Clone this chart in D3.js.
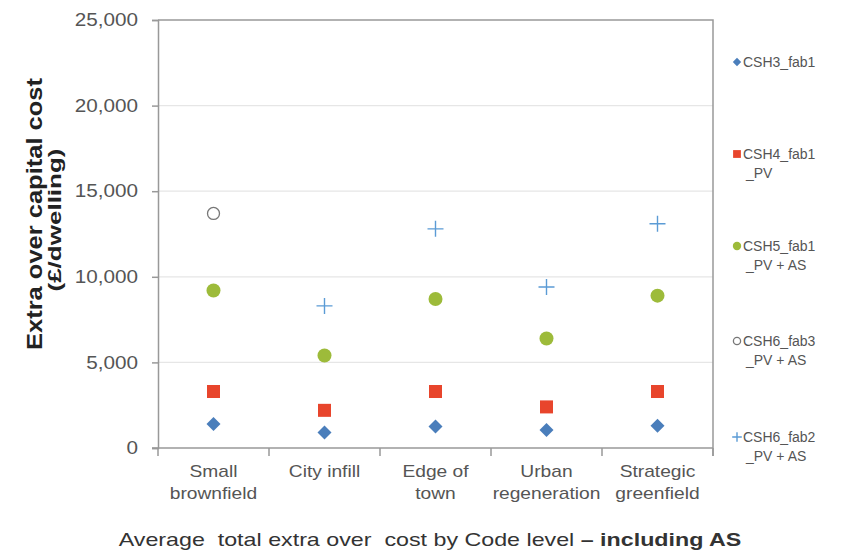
<!DOCTYPE html>
<html>
<head>
<meta charset="utf-8">
<script src="https://cdn.jsdelivr.net/npm/d3@7/dist/d3.min.js"></script>
<style>
  html, body { margin: 0; padding: 0; background: #fff; }
  svg { display: block; font-family: "Liberation Sans", Arial, sans-serif; }
</style>
</head>
<body>
<svg id="chart" width="846" height="551"></svg>
<script>
// Site types along the x axis (label lines)
const categories = ["Small brownfield", "City infill", "Edge of town", "Urban regeneration", "Strategic greenfield"];
const categoryLines = [["Small", "brownfield"], ["City infill"], ["Edge of", "town"], ["Urban", "regeneration"], ["Strategic", "greenfield"]];

// Extra over capital cost (£/dwelling) per Code level
const csh3_fab1 = [1400, 900, 1250, 1050, 1300];
const csh4_fab1_pv = [3300, 2200, 3300, 2400, 3300];
const csh5_fab1_pv_as = [9200, 5400, 8700, 6400, 8900];
const csh6_fab3_pv_as = [13700, null, null, null, null];
const csh6_fab2_pv_as = [null, 8300, 12800, 9400, 13100];

const yTicks = [0, 5000, 10000, 15000, 20000, 25000];

const seriesNames = [["CSH3_fab1"], ["CSH4_fab1", "_PV"], ["CSH5_fab1", "_PV + AS"], ["CSH6_fab3", "_PV + AS"], ["CSH6_fab2", "_PV + AS"]];

const series = [
  { values: csh3_fab1, shape: "diamond", color: "#4a7ebb" },
  { values: csh4_fab1_pv, shape: "square", color: "#e8452c" },
  { values: csh5_fab1_pv_as, shape: "circle", color: "#9dbb3a" },
  { values: csh6_fab3_pv_as, shape: "open", color: "#777" },
  { values: csh6_fab2_pv_as, shape: "plus", color: "#5b9bd5" }
];

const svg = d3.select("#chart");
const plot = { left: 158, right: 713, top: 20, bottom: 448 };

const x = d3.scaleBand().domain(categories).range([plot.left, plot.right]);
const y = d3.scaleLinear().domain([0, 25000]).range([plot.bottom, plot.top]);

// Stretch text horizontally about an anchor x
function stretch(sel, sx, ax) {
  sel.attr("transform", `translate(${ax},0) scale(${sx},1) translate(${-ax},0)`);
}

// Horizontal gridlines
svg.append("g").selectAll("line")
  .data(yTicks.filter(d => d > 0 && d < 25000))
  .join("line")
  .attr("x1", plot.left).attr("x2", plot.right)
  .attr("y1", d => y(d)).attr("y2", d => y(d))
  .attr("stroke", "#e6e6e6").attr("stroke-width", 1.2);

// Plot frame (top and right edges)
svg.append("path")
  .attr("d", `M${plot.left},${plot.top}H${plot.right}V${plot.bottom + 8}`)
  .attr("fill", "none").attr("stroke", "#999").attr("stroke-width", 1.5);

// Y axis
const yAxis = svg.append("g")
  .attr("transform", `translate(${plot.left},0)`)
  .call(d3.axisLeft(y).tickValues(yTicks).tickFormat(d3.format(",")).tickSize(6).tickPadding(14));
yAxis.select(".domain").attr("stroke", "#999").attr("stroke-width", 1.5);
yAxis.selectAll(".tick line").attr("stroke", "#999").attr("stroke-width", 1.5);
yAxis.selectAll(".tick text")
  .attr("fill", "#555").attr("font-size", "18px")
  .attr("font-family", "Liberation Sans, Arial, sans-serif")
  .each(function () { stretch(d3.select(this), 1.15, -20); });

// X axis with ticks at category boundaries
svg.append("line")
  .attr("x1", plot.left - 6).attr("x2", plot.right)
  .attr("y1", plot.bottom).attr("y2", plot.bottom)
  .attr("stroke", "#999").attr("stroke-width", 1.5);
const bounds = categories.map(c => x(c)).concat([plot.right]);
svg.append("g").selectAll("line")
  .data(bounds)
  .join("line")
  .attr("x1", d => d).attr("x2", d => d)
  .attr("y1", plot.bottom).attr("y2", plot.bottom + 8)
  .attr("stroke", "#999").attr("stroke-width", 1.5);

// Category labels
const catG = svg.append("g");
categories.forEach((c, i) => {
  const cx = x(c) + x.bandwidth() / 2;
  const t = catG.append("text")
    .attr("x", cx)
    .attr("y", 477)
    .attr("text-anchor", "middle")
    .attr("fill", "#555").attr("font-size", "16px");
  categoryLines[i].forEach((line, j) => {
    t.append("tspan").attr("x", cx).attr("dy", j === 0 ? 0 : 22).text(line);
  });
  stretch(t, 1.2, cx);
});

// Marker drawing
function drawMarker(g, shape, color, cx, cy, scale) {
  const s = scale || 1;
  if (shape === "diamond") {
    const r = 7 * s;
    g.append("path").attr("d", `M${cx},${cy - r}L${cx + r},${cy}L${cx},${cy + r}L${cx - r},${cy}Z`).attr("fill", color);
  } else if (shape === "square") {
    const h = 6.5 * s;
    g.append("rect").attr("x", cx - h).attr("y", cy - h).attr("width", 2 * h).attr("height", 2 * h).attr("fill", color);
  } else if (shape === "circle") {
    g.append("circle").attr("cx", cx).attr("cy", cy).attr("r", 7 * s).attr("fill", color);
  } else if (shape === "open") {
    g.append("circle").attr("cx", cx).attr("cy", cy).attr("r", 6 * s).attr("fill", "none").attr("stroke", color).attr("stroke-width", 1.3);
  } else if (shape === "plus") {
    const h = 8 * s;
    g.append("path").attr("d", `M${cx - h},${cy}H${cx + h}M${cx},${cy - h}V${cy + h}`).attr("stroke", color).attr("stroke-width", 1.4).attr("fill", "none");
  }
}

const markG = svg.append("g");
series.forEach(s => {
  s.values.forEach((v, i) => {
    if (v == null) return;
    drawMarker(markG, s.shape, s.color, x(categories[i]) + x.bandwidth() / 2, y(v));
  });
});

// Legend
const legendY = [67, 159, 251, 346, 442];
const legG = svg.append("g");
series.forEach((s, i) => {
  drawMarker(legG, s.shape, s.color, 737, legendY[i] - 5, 0.6);
  const t = legG.append("text").attr("x", 743).attr("y", legendY[i])
    .attr("fill", "#555").attr("font-size", "14px");
  seriesNames[i].forEach((line, j) => {
    t.append("tspan").attr("x", j === 0 ? 743 : 746).attr("dy", j === 0 ? 0 : 19).text(line);
  });
});

// Y axis title
svg.append("text")
  .attr("transform", "translate(42,214) rotate(-90)")
  .attr("text-anchor", "middle")
  .attr("fill", "#222").attr("font-size", "22px").attr("font-weight", "bold")
  .attr("textLength", 272).attr("lengthAdjust", "spacingAndGlyphs")
  .text("Extra over capital cost");
svg.append("text")
  .attr("transform", "translate(61,220) rotate(-90)")
  .attr("text-anchor", "middle")
  .attr("fill", "#222").attr("font-size", "19px").attr("font-weight", "bold")
  .attr("textLength", 143).attr("lengthAdjust", "spacingAndGlyphs")
  .text("(£/dwelling)");

// Caption, stretched to span 118–741
const capX = 430;
const cap = svg.append("text")
  .attr("x", capX).attr("y", 546)
  .attr("text-anchor", "middle")
  .attr("fill", "#333").attr("font-size", "18px")
  .attr("xml:space", "preserve");
cap.append("tspan").text("Average  total extra over  cost by Code level ");
cap.append("tspan").attr("font-weight", "bold").text("– including AS");
const capW = cap.node().getBBox().width;
stretch(cap, 623 / capW, capX);
</script>
</body>
</html>
